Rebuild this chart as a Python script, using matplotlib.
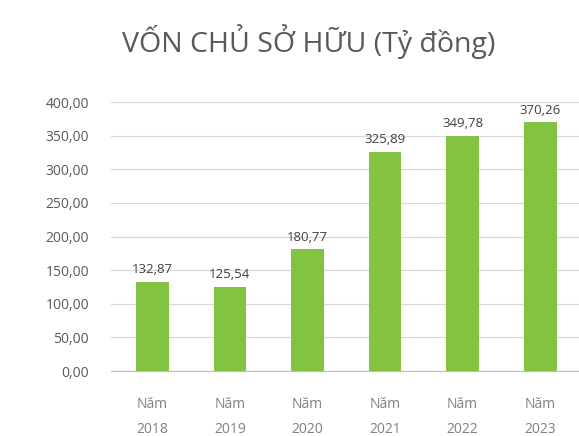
import matplotlib.pyplot as plt

plt.rcParams['font.family'] = ['Open Sans', 'DejaVu Sans']

years = ["2018", "2019", "2020", "2021", "2022", "2023"]
values = [132.87, 125.54, 180.77, 325.89, 349.78, 370.26]
yticks = [0, 50, 100, 150, 200, 250, 300, 350, 400]

def vn(v):
    return "{:.2f}".format(v).replace(".", ",")

fig = plt.figure(figsize=(5.79, 4.36), dpi=100)
ax = fig.add_axes([0.192, 0.149, 0.808, 0.617])

labels = ["Năm\n" + y for y in years]
x = range(len(years))
bars = ax.bar(x, values, width=0.42, color="#84C341", zorder=3)
for b, v in zip(bars, values):
    ax.text(b.get_x() + b.get_width() / 2, v + 8, vn(v), ha="center", va="bottom",
            fontsize=9.5, color="#404040")

ax.set_ylim(0, 400)
ax.set_xlim(-0.53, len(years) - 0.5)
ax.set_yticks(yticks)
ax.set_yticklabels([vn(t) for t in yticks], fontsize=10, color="#595959")
ax.set_xticks(list(x))
ax.set_xticklabels(labels, fontsize=10, color="#808080", linespacing=1.9)
ax.tick_params(axis="y", length=0, pad=16)
ax.tick_params(axis="x", length=0, pad=19)
ax.grid(axis="y", color="#D9D9D9", linewidth=0.9, zorder=0)
for s in ["top", "right", "left"]:
    ax.spines[s].set_visible(False)
ax.spines["bottom"].set_color("#BFBFBF")

fig.text(0.534, 0.905, "VỐN CHỦ SỞ HỮU (Tỷ đồng)", ha="center", va="center",
         fontsize=20.5, color="#595959")

fig.savefig("out.png", dpi=100)
